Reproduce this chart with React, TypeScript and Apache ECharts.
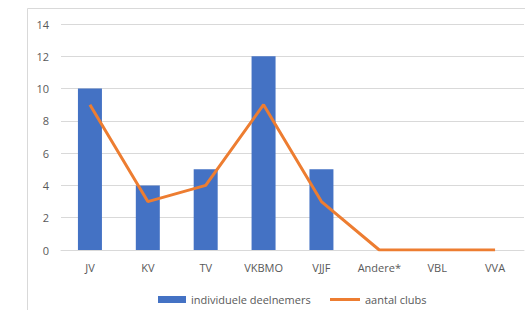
import React, { useEffect, useRef } from "react";
import * as echarts from "echarts";

const categories = ["JV", "KV", "TV", "VKBMO", "VJJF", "Andere*", "VBL", "VVA"];
const deelnemers = [10, 4, 5, 12, 5, 0, 0, 0];
const clubs = [9, 3, 4, 9, 3, 0, 0, 0];
const yTicks = { min: 0, max: 14, interval: 2 };

export default function App() {
  const ref = useRef<HTMLDivElement>(null);
  useEffect(() => {
    if (!ref.current) return;
    const chart = echarts.init(ref.current, null, { renderer: "svg" });
    const font = "'Open Sans', 'Liberation Sans', sans-serif";
    const legendText = { color: "#595959", fontSize: 11, fontFamily: font };
    chart.setOption({
      animation: false,
      textStyle: { fontFamily: font },
      graphic: [
        {
          type: "rect",
          shape: { x: 27.5, y: 8.5, width: 600, height: 400 },
          style: { fill: "none", stroke: "#D9D9D9", lineWidth: 1 },
          silent: true,
        },
      ],
      grid: { left: 61, right: 1, top: 24, bottom: 60 },
      xAxis: {
        type: "category",
        data: categories,
        axisLine: { show: true, lineStyle: { color: "#D9D9D9" } },
        axisTick: { show: false },
        axisLabel: { color: "#595959", fontSize: 11, margin: 12, fontFamily: font },
      },
      yAxis: {
        type: "value",
        min: yTicks.min,
        max: yTicks.max,
        interval: yTicks.interval,
        axisLine: { show: false },
        axisTick: { show: false },
        splitLine: { lineStyle: { color: "#D9D9D9" } },
        axisLabel: { color: "#595959", fontSize: 11, margin: 12, fontFamily: font },
      },
      legend: [
        {
          left: 153,
          top: 289,
          itemWidth: 28,
          itemHeight: 7,
          textStyle: legendText,
          data: [{ name: "individuele deelnemers", icon: "rect" }],
        },
        {
          left: 325,
          top: 289,
          itemWidth: 30,
          itemHeight: 3,
          textStyle: legendText,
          data: [{ name: "aantal clubs", icon: "rect" }],
        },
      ],
      series: [
        {
          name: "individuele deelnemers",
          type: "bar",
          data: deelnemers,
          barWidth: 24,
          itemStyle: { color: "#4472C4" },
        },
        {
          name: "aantal clubs",
          type: "line",
          data: clubs,
          symbol: "none",
          lineStyle: { color: "#ED7D31", width: 3 },
          itemStyle: { color: "#ED7D31" },
        },
      ],
    });
    return () => chart.dispose();
  }, []);
  return (
    <div
      ref={ref}
      style={{ position: "fixed", left: 0, top: 0, width: 525, height: 310, background: "#fff" }}
    />
  );
}
